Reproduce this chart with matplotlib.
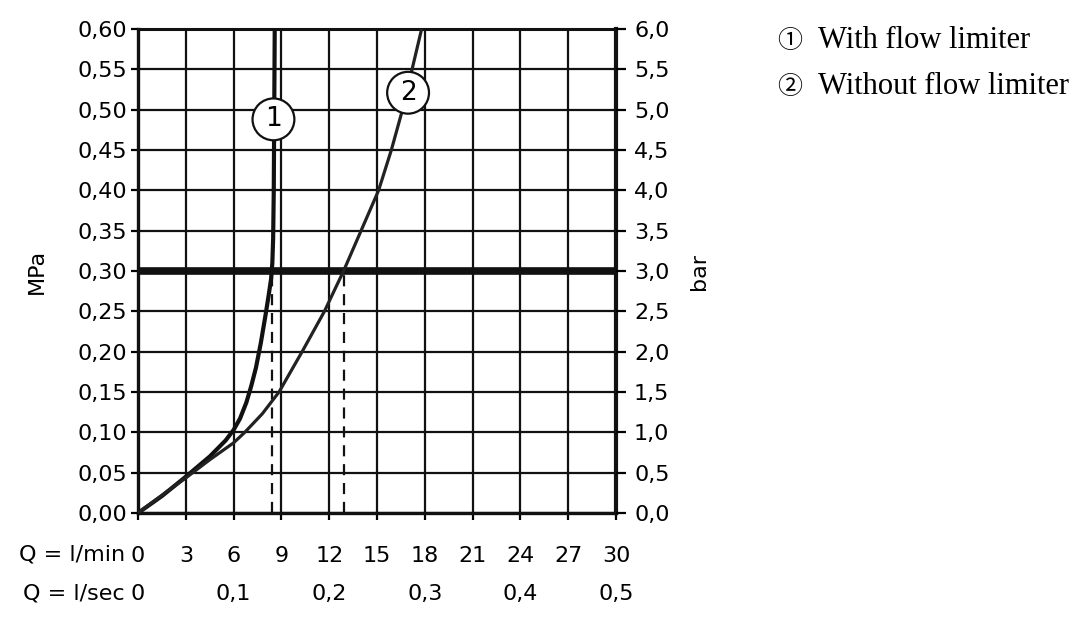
import matplotlib
matplotlib.use("Agg")
import matplotlib.pyplot as plt

# flow rate Q (l/min) vs pressure (MPa)
q_with = [0.0, 1.5, 3.0, 4.5, 5.5, 6.0, 6.4, 6.8, 7.1, 7.4, 7.7, 8.0, 8.2, 8.35, 8.43, 8.48, 8.52, 8.55, 8.58]
p_with = [0.0, 0.021, 0.045, 0.070, 0.090, 0.103, 0.117, 0.137, 0.157, 0.18, 0.21, 0.245, 0.27, 0.29, 0.31, 0.34, 0.40, 0.50, 0.60]

q_without = [0.0, 1.5, 3.1, 4.5, 6.0, 6.7, 7.8, 8.85, 10.3, 11.7, 12.9, 14.0, 15.1, 15.9, 16.6, 17.2, 17.8]
p_without = [0.0, 0.022, 0.045, 0.066, 0.087, 0.10, 0.123, 0.15, 0.20, 0.25, 0.30, 0.35, 0.40, 0.45, 0.50, 0.55, 0.60]

q_marks = [8.4, 12.9]          # dashed read-off lines at 0.30 MPa
p_ref = 0.30

lmin_ticks = [0, 3, 6, 9, 12, 15, 18, 21, 24, 27, 30]
lsec_ticks = [0, 0.1, 0.2, 0.3, 0.4, 0.5]
mpa_ticks = [0.00, 0.05, 0.10, 0.15, 0.20, 0.25, 0.30, 0.35, 0.40, 0.45, 0.50, 0.55, 0.60]
bar_ticks = [0.0, 0.5, 1.0, 1.5, 2.0, 2.5, 3.0, 3.5, 4.0, 4.5, 5.0, 5.5, 6.0]

legend_items = [("\u2460", "With flow limiter"), ("\u2461", "Without flow limiter")]

plt.rcParams['font.family'] = ['DejaVu Sans']
FS = 16

fig = plt.figure(figsize=(10.92, 6.2), dpi=100)
ax = fig.add_axes([0.1264, 0.1726, 0.4377, 0.7806])

ax.set_xlim(0, 30)
ax.set_ylim(0, 0.60)
ax.set_xticks(lmin_ticks)
ax.set_xticklabels([str(t) for t in lmin_ticks], fontsize=FS)
ax.set_yticks(mpa_ticks)
ax.set_yticklabels([f"{t:.2f}".replace('.', ',') for t in mpa_ticks], fontsize=FS)
ax.grid(True, color='#111111', linewidth=1.6, zorder=1)
ax.set_axisbelow(True)
ax.tick_params(axis='y', direction='out', length=5, width=1.6, pad=3)
ax.tick_params(axis='x', direction='out', length=5, width=1.6, pad=19)

for side, lw in [('left', 2.4), ('right', 3.0), ('top', 2.2), ('bottom', 2.4)]:
    ax.spines[side].set_linewidth(lw)
    ax.spines[side].set_color('#111111')

ax.axhline(p_ref, color='#111111', linewidth=5.5, zorder=2)

for q in q_marks:
    ax.plot([q, q], [0, p_ref], color='#111111', linewidth=1.6,
            dashes=(5, 3.5), zorder=2)

ax.plot(q_with, p_with, color='#111111', linewidth=3.0, zorder=3,
        solid_capstyle='butt')
ax.plot(q_without, p_without, color='#222222', linewidth=2.3, zorder=3,
        solid_capstyle='butt')

circ = dict(boxstyle='circle,pad=0.3', facecolor='white', edgecolor='#111111',
            linewidth=1.6)
ax.text(8.5, 0.488, "1", fontsize=19, ha='center', va='center', bbox=circ, zorder=5)
ax.text(16.95, 0.521, "2", fontsize=19, ha='center', va='center', bbox=circ, zorder=5)

# right axis in bar
ax2 = ax.twinx()
ax2.set_ylim(0, 6.0)
ax2.set_yticks(bar_ticks)
ax2.set_yticklabels([f"{t:.1f}".replace('.', ',') for t in bar_ticks], fontsize=FS)
ax2.tick_params(axis='y', direction='out', length=7, width=1.6, pad=6)
for s in ax2.spines.values():
    s.set_visible(False)
ax2.set_ylabel("bar", fontsize=FS, rotation=90, labelpad=14)

ax.set_ylabel("MPa", fontsize=FS, labelpad=22)

# second flow scale in l/sec
sec = ax.secondary_xaxis('bottom', functions=(lambda q: q / 60.0, lambda s: s * 60.0))
sec.set_xticks(lsec_ticks)
sec.set_xticklabels(["0"] + [f"{t:.1f}".replace('.', ',') for t in lsec_ticks[1:]],
                    fontsize=FS)
sec.tick_params(axis='x', length=0, pad=51)
sec.spines['bottom'].set_visible(False)

fig.text(0.1145, 0.105, "Q = l/min", fontsize=FS, ha='right', va='center')
fig.text(0.1145, 0.043, "Q = l/sec", fontsize=FS, ha='right', va='center')

# legend as text
for i, (sym, lab) in enumerate(legend_items):
    y = 0.934 - i * 0.074
    fig.text(0.7235, y, sym, fontsize=18, ha='center', va='center',
             family=['Noto Sans CJK JP', 'DejaVu Sans'])
    fig.text(0.749, y, lab, fontsize=22, ha='left', va='center',
             family=['Liberation Serif'])

fig.savefig("out.png", dpi=100)
